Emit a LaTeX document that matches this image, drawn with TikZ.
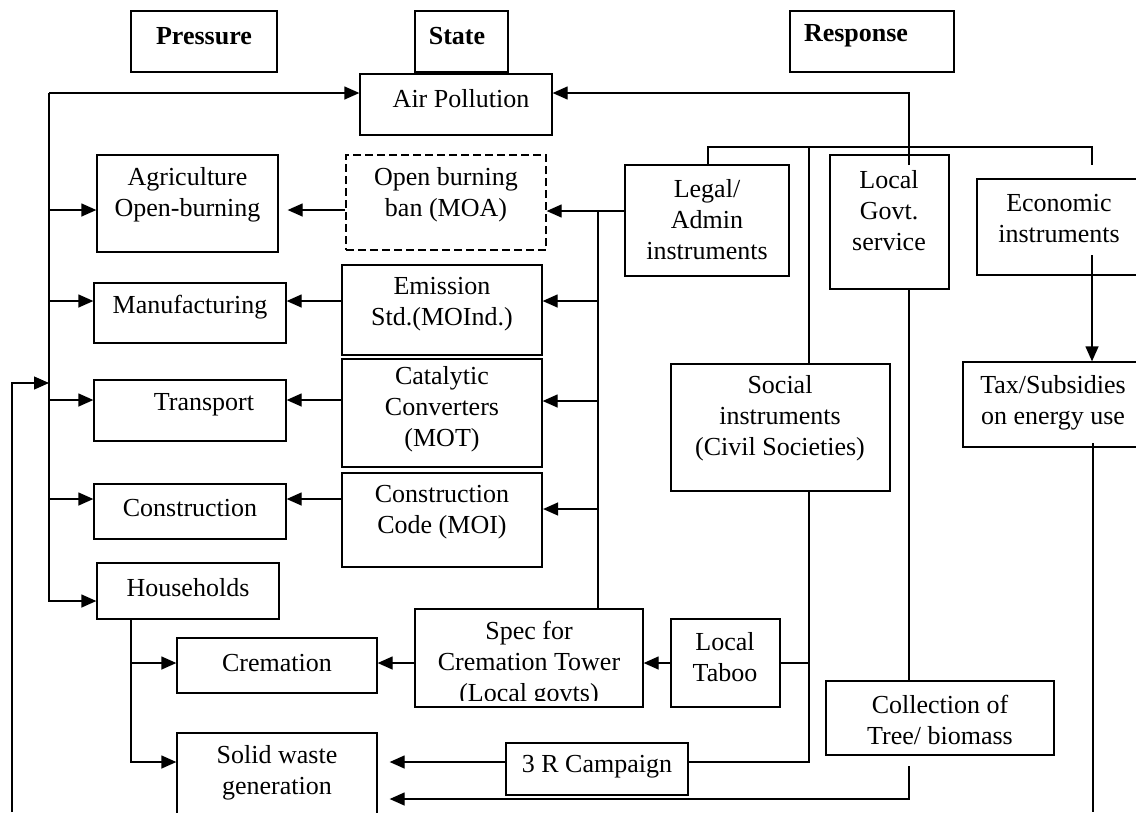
\documentclass[tikz,border=0pt]{standalone}
\usepackage{fontspec}
\setmainfont{Liberation Serif}
\usetikzlibrary{arrows.meta,fit}
\begin{document}
\begin{tikzpicture}[x=1pt,y=-1pt,
  frame/.style={draw, line width=1.3pt, inner sep=0pt},
  txt/.style={inner sep=0pt, align=center, font=\fontsize{26}{31}\selectfont},
  head/.style={inner sep=0pt, font=\fontsize{26}{31}\selectfont\bfseries},
  wire/.style={line width=1.3pt},
  arr/.style={wire, -{Triangle[length=15pt,width=13pt]}},
]
\useasboundingbox (0,0) rectangle (1136,812);
\clip (0,0) rectangle (1136,812);

% column headings
\node[frame, fit={(131,11) (277,72)}] (pres) {};
\node[head] (pres-t) at (204,36) {Pressure};
\node[frame, fit={(415,11) (508,72)}] (state) {};
\node[head] (state-t) at (457,36) {State};
\node[frame, fit={(790,11) (954,72)}] (resp) {};
\node[head] (resp-t) at (856,36) {Response};

% state
\node[frame, fit={(360,74) (552,135)}] (air) {};
\node[txt] (air-t) at (461,99) {Air Pollution};

% pressures
\node[frame, fit={(97,155) (278,252)}] (agri) {};
\node[txt] (agri-t) at (187.5,195) {Agriculture\\Open-burning};
\node[frame, fit={(94,283) (286,343)}] (manu) {};
\node[txt] (manu-t) at (190,307) {Manufacturing};
\node[frame, fit={(94,380) (286,441)}] (trans) {};
\node[txt] (trans-t) at (204,405) {Transport};
\node[frame, fit={(94,484) (286,539)}] (cons) {};
\node[txt] (cons-t) at (190,508) {Construction};
\node[frame, fit={(97,563) (279,619)}] (house) {};
\node[txt] (house-t) at (188,588) {Households};
\node[frame, fit={(177,638) (377,693)}] (crem) {};
\node[txt] (crem-t) at (277,663) {Cremation};
\node[frame, fit={(177,733) (377,830)}] (solid) {};
\node[txt] (solid-t) at (277,773) {Solid waste\\generation};

% sector regulations
\node[frame, dash pattern=on 8pt off 4pt, fit={(346,155) (546,250)}] (ban) {};
\node[txt] (ban-t) at (446,195) {Open burning\\ban (MOA)};
\node[frame, fit={(342,265) (542,355)}] (emis) {};
\node[txt] (emis-t) at (442,304) {Emission\\Std.(MOInd.)};
\node[frame, fit={(342,359) (542,467)}] (cat) {};
\node[txt] (cat-t) at (442,409) {Catalytic\\Converters\\(MOT)};
\node[frame, line width=2.2pt, fit={(342,473) (542,567)}] (ccode) {};
\node[txt] (ccode-t) at (442,512) {Construction\\Code (MOI)};
\node[frame, fit={(415,609) (643,707)}] (spec) {};
\begin{scope}
  \clip (415,609) rectangle (643,700);
  \node[txt] (spec-t) at (529,664) {Spec for\\Cremation Tower\\(Local govts)};
\end{scope}
\node[frame, fit={(506,743) (688,795)}] (rrr) {};
\node[txt] (rrr-t) at (597,767) {3 R Campaign};

% responses
\node[frame, fit={(625,165) (789,276)}] (legal) {};
\node[txt] (legal-t) at (707,220) {Legal/\\Admin\\instruments};
\node[frame, fit={(830,155) (949,289)}] (lgov) {};
\node[txt] (lgov-t) at (889,211) {Local\\Govt.\\service};
\node[frame, fit={(977,179) (1138,275)}] (econ) {};
\node[txt] (econ-t) at (1059,219) {Economic\\instruments};
\node[frame, fit={(963,362) (1138,447)}] (tax) {};
\node[txt] (tax-t) at (1053,403) {Tax/Subsidies\\on energy use};
\node[frame, fit={(671,364) (890,491)}] (social) {};
\node[txt] (social-t) at (780,418) {Social\\instruments\\(Civil Societies)};
\node[frame, fit={(671,619) (780,707)}] (taboo) {};
\node[txt] (taboo-t) at (725,657) {Local\\Taboo};
\node[frame, fit={(826,681) (1054,755)}] (coll) {};
\node[txt] (coll-t) at (940,720) {Collection of\\Tree/ biomass};

% rows used by the horizontal links
\coordinate (yAg) at (0,210);
\coordinate (yMa) at (0,301);
\coordinate (yTr) at (0,400);
\coordinate (yCo) at (0,499);
\coordinate (yTb) at (0,663);
\coordinate (yR)  at (0,762);

% pressure bus on the left
\coordinate (lbT) at (49,93);
\coordinate (lbB) at (49,601);
\draw[arr] (lbT) -- (lbB) -- (lbB -| house.west);
\draw[arr] (lbT) -- (lbT -| air.west);
\draw[arr] (yAg -| lbT) -- (yAg -| agri.west);
\draw[arr] (yMa -| lbT) -- (yMa -| manu.west);
\draw[arr] (yTr -| lbT) -- (yTr -| trans.west);
\draw[arr] (yCo -| lbT) -- (yCo -| cons.west);
\coordinate (outB) at (12,812);
\coordinate (outT) at (12,383);
\draw[arr] (outB) -- (outT) -- (outT -| lbT);

% households split
\coordinate (hbC) at (131,663);
\coordinate (hbS) at (131,762);
\draw[arr] (house.south -| hbC) -- (hbS) -- (hbS -| solid.west);
\draw[arr] (hbC) -- (hbC -| crem.west);

% regulations acting on pressures
\draw[arr, shorten >=9pt] (yAg -| ban.west) -- (yAg -| agri.east);
\draw[arr] (yMa -| emis.west) -- (yMa -| manu.east);
\draw[arr] (yTr -| cat.west) -- (yTr -| trans.east);
\draw[arr] (yCo -| ccode.west) -- (yCo -| cons.east);
\draw[arr] (yTb -| spec.west) -- (yTb -| crem.east);

% legal / admin instruments bus
\coordinate (mbT) at (598,211);
\coordinate (mbE) at (598,301);
\coordinate (mbC) at (598,401);
\coordinate (mbK) at (598,509);
\draw[arr] (mbT -| legal.west) -- (mbT -| ban.east);
\draw[wire] (mbT) -- (mbT |- spec.north);
\draw[arr] (mbE) -- (mbE -| emis.east);
\draw[arr] (mbC) -- (mbC -| cat.east);
\draw[arr] (mbK) -- (mbK -| ccode.east);

% local government service to air pollution
\coordinate (lgIn) at (909,165);
\coordinate (lgUp) at (909,93);
\draw[arr] (lgIn) -- (lgUp) -- (lgUp -| air.east);

% response bus
\coordinate (ubL) at (708,147);
\coordinate (ubS) at (809,147);
\coordinate (ubR) at (1092,147);
\coordinate (ubStub) at (1092,165);
\draw[wire] (legal.north -| ubL) -- (ubL) -- (ubR) -- (ubStub);
\draw[wire] (ubS) -- (ubS |- social.north);

% economic instruments
\coordinate (ecIn) at (1092,255);
\draw[arr] (ecIn) -- (ecIn |- tax.north);
\coordinate (txIn) at (1093,443);
\coordinate (txB) at (1093,812);
\draw[wire] (txIn) -- (txB);

% social instruments
\draw[wire] (ubS |- social.south) -- (ubS |- yR) -- (yR -| rrr.east);
\draw[wire] (yTb -| taboo.east) -- (yTb -| ubS);
\draw[arr] (yTb -| taboo.west) -- (yTb -| spec.east);
\draw[arr, shorten >=12pt] (yR -| rrr.west) -- (yR -| solid.east);

% local government collection service
\draw[wire] (lgIn |- lgov.south) -- (lgIn |- coll.north);
\coordinate (clIn) at (909,766);
\coordinate (clB) at (909,799);
\draw[arr, shorten >=12pt] (clIn) -- (clB) -- (clB -| solid.east);
\end{tikzpicture}
\end{document}
